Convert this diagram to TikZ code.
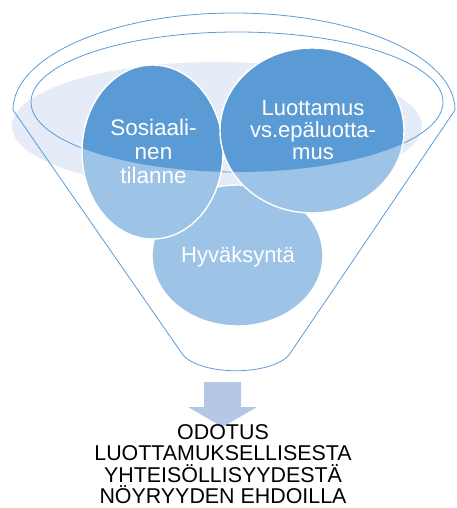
\documentclass[tikz,border=0pt]{standalone}
\usepackage{fontspec}
\setmainfont{Liberation Sans}
\usetikzlibrary{shapes.geometric}

\definecolor{rimblue}{RGB}{91,155,213}
\definecolor{paleblue}{RGB}{157,195,230}
\definecolor{haze}{RGB}{229,236,247}
\definecolor{arrowblue}{RGB}{180,199,231}

\tikzset{
  rim/.style={draw=rimblue, line width=0.8pt},
  bubble/.style={ellipse, draw=white, line width=1.4pt, fill=paleblue, inner sep=0pt},
  bubbletext/.style={text=white, align=center, inner sep=0pt},
}

\begin{document}
\begin{tikzpicture}[x=1pt,y=-1pt]
\useasboundingbox (0,0) rectangle (456,508);

% haze behind the funnel
\fill[haze] (217,126) ellipse [x radius=205pt, y radius=64pt];

% funnel body and rim
\draw[rim] (13,110) arc [start angle=180, end angle=0, x radius=221pt, y radius=97pt]
  -- (289,355) .. controls (270,376) and (202,376) .. (183,355) -- cycle;
\draw[rim] (237,102) ellipse [x radius=206pt, y radius=70pt];

% bubbles
\foreach \nm/\cx/\cy/\w/\h in {hyv/237.5/255.5/171/141, sos/152.5/152/141/174, luo/312/130.5/184/165} {
    \node[bubble, minimum width=\w pt, minimum height=\h pt] (\nm) at (\cx,\cy) {};
}

% darker where they sit inside the rim
\begin{scope}
  \clip (237,102) ellipse [x radius=206pt, y radius=70pt];
  \foreach \nm/\cx/\cy/\w/\h in {sos/152.5/152/141/174, luo/312/130.5/184/165} {
      \node[bubble, fill=rimblue, minimum width=\w pt, minimum height=\h pt] (\nm-in) at (\cx,\cy) {};
  }
\end{scope}

% labels
\node[bubbletext, font=\fontsize{22.5}{24}\selectfont] (sostext) at (153.5,151.5) {Sosiaali-\\nen\\tilanne};
\node[bubbletext, font=\fontsize{22}{22}\selectfont] (luotext) at (313,130) {Luottamus\\vs.epäluotta-\\mus};
\node[bubbletext, font=\fontsize{22}{24}\selectfont] (hyvtext) at (238,257) {Hyväksyntä};

% arrow out of the funnel
\fill[arrowblue] (204,382) -- (241,382) -- (241,407) -- (257,407) -- (222.5,427)
  -- (188,407) -- (204,407) -- cycle;

\node[font=\fontsize{21.4}{21.5}\selectfont, align=center, inner sep=0pt] (expect) at (223,464)
  {ODOTUS\\LUOTTAMUKSELLISESTA\\YHTEISÖLLISYYDESTÄ\\NÖYRYYDEN EHDOILLA};
\end{tikzpicture}
\end{document}
